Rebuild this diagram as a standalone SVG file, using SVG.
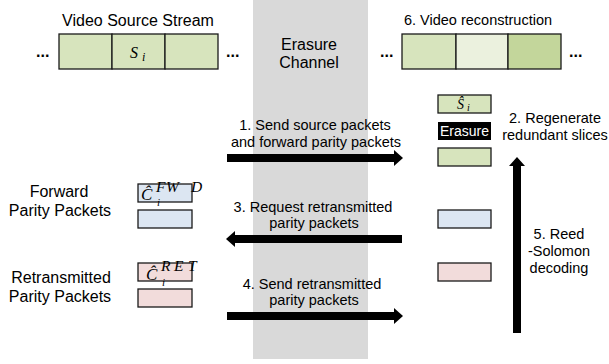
<svg xmlns="http://www.w3.org/2000/svg" width="609" height="364" viewBox="0 0 609 364">
<style>
text{font-family:"Liberation Sans",Arial,sans-serif;fill:#000}
.t16{font-size:16px}
.t14{font-size:14.5px}
.dots{font-size:16px;font-weight:bold}
.m{font-family:"Liberation Serif","Times New Roman",serif;font-style:italic}
.box{stroke:#1a1a1a;stroke-width:1.3}
.g1{fill:#d7e4bd}.g2{fill:#ebf1de}.g3{fill:#c3d69b}
.bl{fill:#dce6f2}.pk{fill:#f2dcdb}
.arr{fill:#000}
</style>
<rect id="channel" x="253" y="0" width="115" height="359" fill="#d9d9d9"/>
<g id="channel-label" text-anchor="middle">
<text class="t16" x="309" y="50">Erasure</text>
<text class="t16" x="309" y="68">Channel</text>
</g>
<g id="source-stream">
<text class="t16" x="138" y="26" text-anchor="middle">Video Source Stream</text>
<text class="dots" x="36" y="57">...</text>
<rect class="box g1" x="59" y="34" width="53" height="35"/>
<rect class="box g1" x="112" y="34" width="53" height="35"/>
<rect class="box g1" x="165" y="34" width="53" height="35"/>
<text class="m" x="130" y="58" font-size="16">S</text>
<text class="m" x="142" y="61" font-size="12">i</text>
<text class="dots" x="226" y="57">...</text>
</g>
<g id="reconstruction">
<text class="t14" x="478" y="25" text-anchor="middle">6. Video reconstruction</text>
<text class="dots" x="380" y="57">...</text>
<rect class="box g1" x="402" y="34" width="54" height="35"/>
<rect class="box g2" x="456" y="34" width="52" height="35"/>
<rect class="box g3" x="508" y="34" width="53" height="35"/>
<text class="dots" x="569" y="57">...</text>
</g>
<g id="receiver-slices">
<rect class="box g1" x="438" y="95" width="53" height="18"/>
<text class="m" x="457" y="109" font-size="14">Ŝ</text>
<text class="m" x="467" y="111" font-size="10">i</text>
<rect x="438" y="122" width="53" height="18" fill="#000"/>
<text x="464.5" y="136" font-size="14" text-anchor="middle" style="fill:#fff">Erasure</text>
<rect class="box g1" x="438" y="148" width="53" height="18"/>
<rect class="box bl" x="438" y="210" width="53" height="18"/>
<rect class="box pk" x="438" y="263" width="53" height="18"/>
</g>
<g id="regenerate-label" text-anchor="middle">
<text class="t14" x="555" y="123">2. Regenerate</text>
<text class="t14" x="555" y="140">redundant slices</text>
</g>
<g id="decoding-label" text-anchor="middle">
<text class="t14" x="559" y="239">5. Reed</text>
<text class="t14" x="559" y="256">-Solomon</text>
<text class="t14" x="559" y="273">decoding</text>
</g>
<g id="forward-parity">
<text class="t16" x="59" y="197" text-anchor="middle">Forward</text>
<text class="t16" x="60" y="216" text-anchor="middle">Parity Packets</text>
<rect class="box bl" x="138" y="184" width="54" height="18"/>
<rect class="box bl" x="138" y="210" width="54" height="18"/>
<text class="m" x="141" y="200" font-size="17">Ĉ</text>
<text class="m" y="192" font-size="15.5" x="156 166 191">FWD</text>
<text class="m" x="157" y="206" font-size="11">i</text>
</g>
<g id="retransmitted-parity">
<text class="t16" x="61" y="283" text-anchor="middle">Retransmitted</text>
<text class="t16" x="60" y="302" text-anchor="middle">Parity Packets</text>
<rect class="box pk" x="138" y="263" width="54" height="18"/>
<rect class="box pk" x="138" y="289" width="54" height="18"/>
<text class="m" x="146" y="280" font-size="17">Ĉ</text>
<text class="m" y="271" font-size="15.5" x="161 174 188">RET</text>
<text class="m" x="162" y="286" font-size="11">i</text>
</g>
<g id="connectors">
<g id="arrow-1">
<polygon class="arr" points="227,154 394,154 394,150 403,158 394,166 394,162 227,162"/>
<text class="t14" x="315" y="130" text-anchor="middle">1. Send source packets</text>
<text class="t14" x="316" y="147" text-anchor="middle">and forward parity packets</text>
</g>
<g id="arrow-3">
<polygon class="arr" points="402,235 235,235 235,231 226,239 235,247 235,243 402,243"/>
<text class="t14" x="313" y="212" text-anchor="middle">3. Request retransmitted</text>
<text class="t14" x="314" y="228" text-anchor="middle">parity packets</text>
</g>
<g id="arrow-4">
<polygon class="arr" points="227,312 394,312 394,308 403,316 394,324 394,320 227,320"/>
<text class="t14" x="312" y="289" text-anchor="middle">4. Send retransmitted</text>
<text class="t14" x="314" y="305" text-anchor="middle">parity packets</text>
</g>
<g id="arrow-5">
<polygon class="arr" points="513,333 513,166 509,166 517,157 525,166 521,166 521,333"/>
</g>
</g>
</svg>
